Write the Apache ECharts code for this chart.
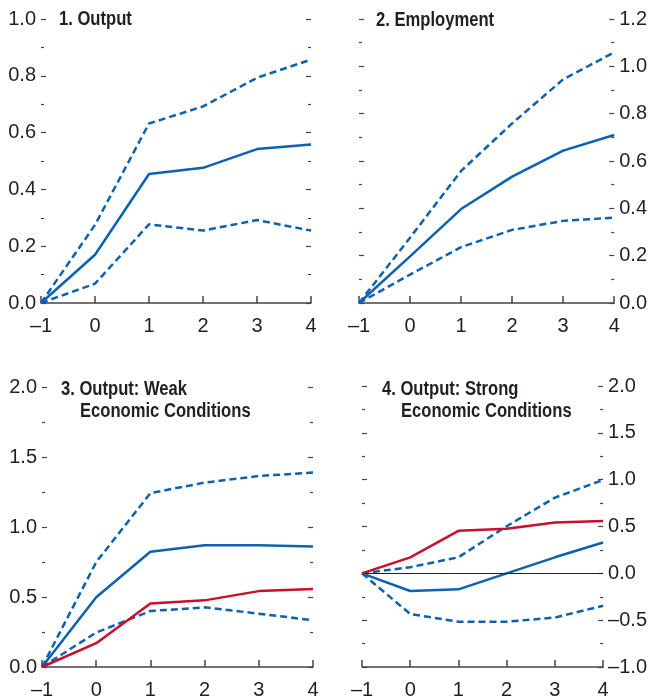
<!DOCTYPE html>
<html>
<head>
<meta charset="utf-8">
<script src="https://cdn.jsdelivr.net/npm/echarts@6/dist/echarts.min.js"></script>
<style>
html,body{margin:0;padding:0;background:#fff;}
#chart{width:650px;height:700px;}
</style>
</head>
<body>
<div id="chart"></div>
<script>
// ---- data ----
var horizons = [-1, 0, 1, 2, 3, 4];
var p1Mid = [0, 0.170, 0.454, 0.476, 0.542, 0.558];
var p1Up  = [0, 0.275, 0.632, 0.692, 0.793, 0.857];
var p1Lo  = [0, 0.068, 0.277, 0.255, 0.292, 0.255];
var p2Mid = [0, 0.197, 0.397, 0.534, 0.644, 0.710];
var p2Up  = [0, 0.276, 0.558, 0.759, 0.945, 1.059];
var p2Lo  = [0, 0.120, 0.236, 0.309, 0.347, 0.361];
var p3Mid = [0, 0.498, 0.823, 0.870, 0.870, 0.861];
var p3Up  = [0, 0.749, 1.242, 1.317, 1.364, 1.389];
var p3Lo  = [0, 0.246, 0.400, 0.426, 0.381, 0.334];
var p4Mid = [0, -0.189, -0.171, 0.000, 0.171, 0.329];
var p4Up  = [0, 0.066, 0.171, 0.503, 0.808, 0.997];
var p4Lo  = [0, -0.434, -0.517, -0.517, -0.472, -0.346];
var baseline = p1Mid; // red: unconditional output response
var titles = [
  ["1. Output"],
  ["2. Employment"],
  ["3. Output: Weak", "Economic Conditions"],
  ["4. Output: Strong", "Economic Conditions"]
];
var yRanges = [[0, 1.0, 0.2], [0, 1.2, 0.2], [0, 2.0, 0.5], [-1.0, 2.0, 0.5]];
var labelSide = ['left', 'right', 'left', 'right'];

// ---- styling ----
var FONT = "'Liberation Sans', Arial, sans-serif";
var TXT = '#231f20';
var BLUE = '#0b62b0';
var RED = '#c8102e';

var grids = [
  {left: 41, top: 19, width: 270, height: 284},
  {left: 359, top: 19, width: 256, height: 284},
  {left: 42, top: 387, width: 271, height: 285},
  {left: 362, top: 386, width: 244, height: 286}
];

function fmtNum(v, d) {
  var s = Math.abs(v).toFixed(d);
  return (v < -1e-9 ? '\u2013' : '') + s;
}
function pairs(ys) { return horizons.map(function (x, i) { return [x, ys[i]]; }); }

var xAxes = [], yAxes = [], series = [], graphics = [];
grids.forEach(function (g, i) {
  g.containLabel = false;
  xAxes.push({
    type: 'value', gridIndex: i, min: -1, max: 4, interval: 1,
    axisLine: {show: true, onZero: false, lineStyle: {color: '#444', width: 1.5}},
    axisTick: {show: true, inside: true, length: 7, lineStyle: {color: '#444', width: 1.5}},
    splitLine: {show: false},
    axisLabel: {margin: 13, color: TXT, fontFamily: FONT, fontSize: 20,
      formatter: function (v) { return fmtNum(v, 0); }}
  });
  var r = yRanges[i];
  ['left', 'right'].forEach(function (pos) {
    var showLab = labelSide[i] === pos;
    yAxes.push({
      type: 'value', gridIndex: i, position: pos, min: r[0], max: r[1], interval: r[2],
      axisLine: {show: false, onZero: false},
      axisTick: {show: true, inside: true, length: 5, lineStyle: {color: '#444', width: 1.2}},
      minorTick: {show: true, splitNumber: 2, length: 3, lineStyle: {color: '#444', width: 1.2}},
      splitLine: {show: false}, minorSplitLine: {show: false},
      axisLabel: {show: showLab, margin: 5, color: TXT, fontFamily: FONT, fontSize: 20,
        formatter: function (v) { return fmtNum(v, 1); }}
    });
  });
});

var panels = [
  {mid: p1Mid, up: p1Up, lo: p1Lo, red: false},
  {mid: p2Mid, up: p2Up, lo: p2Lo, red: false},
  {mid: p3Mid, up: p3Up, lo: p3Lo, red: true},
  {mid: p4Mid, up: p4Up, lo: p4Lo, red: true}
];
panels.forEach(function (p, i) {
  var base = {type: 'line', xAxisIndex: i, yAxisIndex: i * 2, symbol: 'none', silent: true, animation: false};
  var up = Object.assign({}, base, {name: 'upper', data: pairs(p.up),
    lineStyle: {color: BLUE, width: 2.5, type: [7, 4]}});
  var lo = Object.assign({}, base, {name: 'lower', data: pairs(p.lo),
    lineStyle: {color: BLUE, width: 2.5, type: [7, 4]}});
  var mid = Object.assign({}, base, {name: 'estimate', data: pairs(p.mid),
    lineStyle: {color: BLUE, width: 2.5}});
  if (i === 3) {
    mid.markLine = {silent: true, symbol: 'none', label: {show: false},
      lineStyle: {color: '#222', width: 1, type: 'solid'}, data: [{yAxis: 0}], animation: false};
  }
  series.push(up, lo, mid);
  if (p.red) {
    series.push(Object.assign({}, base, {name: 'baseline', data: pairs(baseline),
      lineStyle: {color: RED, width: 2.5}, z: 5}));
  }
});

var titlePos = [
  [[59, 19.5]],
  [[376, 20]],
  [[61, 389.5], [80, 411.5]],
  [[382, 389.5], [401, 411.5]]
];
titles.forEach(function (lines, i) {
  lines.forEach(function (t, j) {
    graphics.push({type: 'text', x: titlePos[i][j][0], y: titlePos[i][j][1], scaleX: 0.83, silent: true,
      style: {text: t, fill: TXT, font: 'bold 20px ' + FONT, textVerticalAlign: 'middle', textAlign: 'left'}});
  });
});

var chart = echarts.init(document.getElementById('chart'), null, {renderer: 'canvas'});
chart.setOption({
  animation: false,
  grid: grids,
  xAxis: xAxes,
  yAxis: yAxes,
  series: series,
  graphic: graphics
});
</script>
</body>
</html>
